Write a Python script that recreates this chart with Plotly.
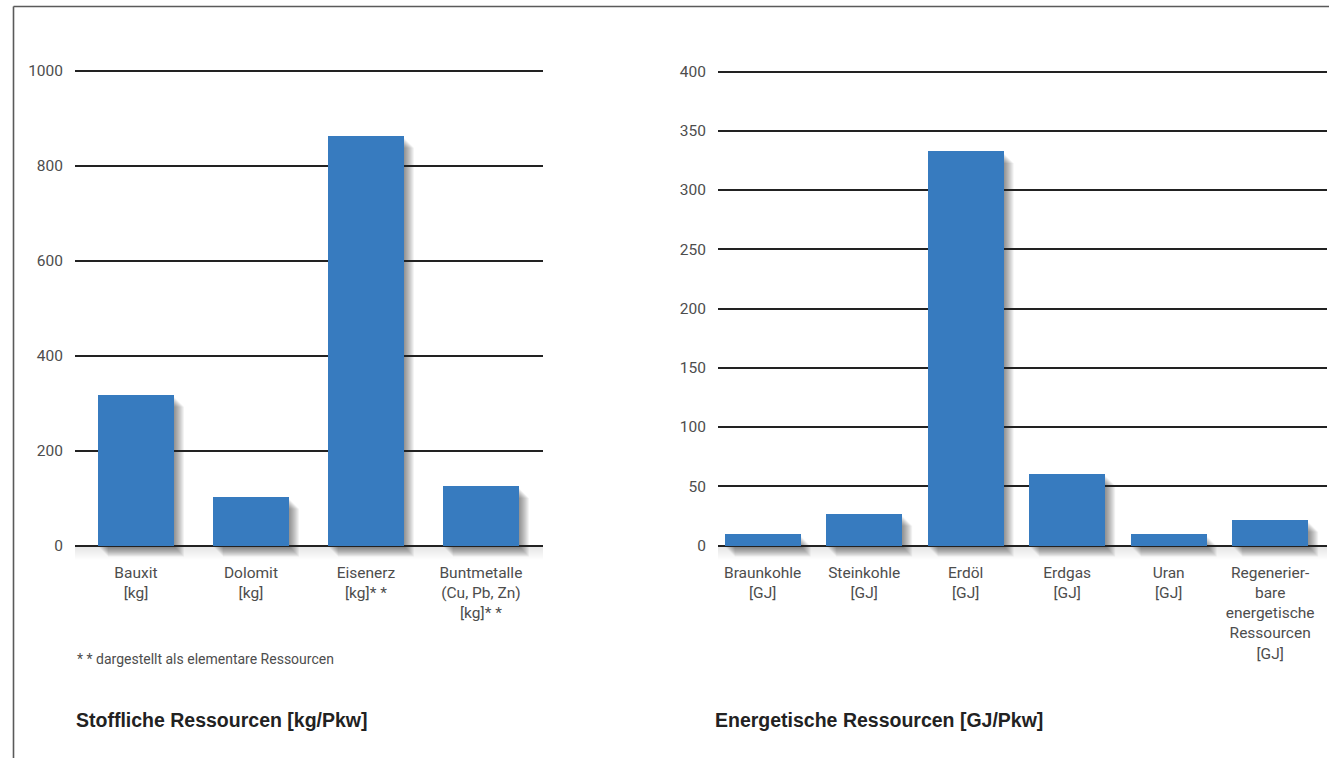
import plotly.graph_objects as go

# ---- data -------------------------------------------------------------
stoff_labels = [
    "Bauxit<br>[kg]",
    "Dolomit<br>[kg]",
    "Eisenerz<br>[kg]* *",
    "Buntmetalle<br>(Cu, Pb, Zn)<br>[kg]* *",
]
stoff_values = [318, 103, 863, 126]
stoff_ticks = [0, 200, 400, 600, 800, 1000]

energie_labels = [
    "Braunkohle<br>[GJ]",
    "Steinkohle<br>[GJ]",
    "Erdöl<br>[GJ]",
    "Erdgas<br>[GJ]",
    "Uran<br>[GJ]",
    "Regenerier-<br>bare<br>energetische<br>Ressourcen<br>[GJ]",
]
energie_values = [10, 27, 333, 61, 10, 22]
energie_ticks = [0, 50, 100, 150, 200, 250, 300, 350, 400]

footnote = "* * dargestellt als elementare Ressourcen"
title_left = "Stoffliche Ressourcen [kg/Pkw]"
title_right = "Energetische Ressourcen [GJ/Pkw]"

# ---- page geometry (pixels) -------------------------------------------
W, H = 1329, 758
TOP_OFF, EFF_H = 5.5, 752.0   # usable drawing band of the page

BAR_COLOR = "#377bbf"
GRID_COLOR = "#222222"
TEXT_COLOR = "#4d4d4d"
LABEL_FONT = "Roboto, DejaVu Sans Condensed, Liberation Sans, sans-serif"
BOLD = "Liberation Sans, Arial, sans-serif"

PAD_BOTTOM = 15   # room under the baseline for the drop shadow
PAD_TOP = 3


def py(p):
    """Pixel row (from top) -> paper y."""
    return 1 - (p - TOP_OFF) / EFF_H


def px(p):
    return p / W


def panel(x_left, x_right, y_zero, y_top, top_value):
    """Axis range/domain so the zero line and the top tick land on the given pixel rows."""
    upp = top_value / (y_zero - y_top)
    y_range = [-PAD_BOTTOM * upp, top_value + PAD_TOP * upp]
    y_domain = [py(y_zero + PAD_BOTTOM), py(y_top - PAD_TOP)]
    x_domain = [px(x_left), px(x_right)]
    return upp, y_range, y_domain, x_domain


L_upp, L_yrange, L_ydom, L_xdom = panel(75, 543, 545, 70, stoff_ticks[-1])
L_xrange = [-0.53, len(stoff_values) - 0.46]
R_upp, R_yrange, R_ydom, R_xdom = panel(718, 1327, 545, 71, energie_ticks[-1])
R_xrange = [-0.44, len(energie_values) - 0.44]

BAR_HALF_PX = 38


def bar_shadows(xref, yref, values, upp):
    """Soft drop shadow to the lower right of each bar, built from stacked translucent rects."""
    shapes = []
    for i, v in enumerate(values):
        for d in range(1, 11):
            shapes.append(dict(
                type="rect", layer="below", xref=xref, yref=yref,
                xsizemode="pixel", xanchor=i,
                x0=-BAR_HALF_PX + d, x1=BAR_HALF_PX + d,
                y0=-(d + 1) * upp, y1=v - (d + 2) * upp,
                fillcolor="black", opacity=0.05, line_width=0,
            ))
    return shapes


def baseline_shadow(xref, yref, upp):
    """Faint grey band fading out below the zero line."""
    shapes = []
    for k in range(1, 15):
        shapes.append(dict(
            type="rect", layer="below", xref=xref + " domain", yref=yref,
            x0=0, x1=1, y0=-k * upp, y1=0,
            fillcolor="black", opacity=0.008, line_width=0,
        ))
    return shapes


fig = go.Figure()

fig.add_trace(go.Bar(
    x=list(range(len(stoff_values))), y=stoff_values, width=0.66,
    marker=dict(color=BAR_COLOR, line_width=0),
    xaxis="x", yaxis="y", hoverinfo="skip", showlegend=False,
))
fig.add_trace(go.Bar(
    x=list(range(len(energie_values))), y=energie_values, width=0.75,
    marker=dict(color=BAR_COLOR, line_width=0),
    xaxis="x2", yaxis="y2", hoverinfo="skip", showlegend=False,
))

yaxis_common = dict(
    showgrid=True, gridcolor=GRID_COLOR, gridwidth=1.7, zeroline=False,
    showline=False, ticks="", ticklabelstandoff=11,
    tickfont=dict(family=LABEL_FONT, size=15.5, color=TEXT_COLOR),
    fixedrange=True,
)
xaxis_common = dict(
    showgrid=False, zeroline=False, showline=False, ticks="",
    ticklabelstandoff=1,
    tickfont=dict(family=LABEL_FONT, size=15.5, color=TEXT_COLOR),
    fixedrange=True,
)

fig.update_layout(
    width=W, height=H,
    margin=dict(l=0, r=0, t=0, b=0),
    paper_bgcolor="white", plot_bgcolor="white",
    bargap=0,
    xaxis=dict(domain=L_xdom, range=L_xrange, anchor="y",
               tickvals=list(range(len(stoff_labels))), ticktext=stoff_labels,
               **xaxis_common),
    yaxis=dict(domain=L_ydom, range=L_yrange, anchor="x",
               tickvals=stoff_ticks, ticktext=[str(t) for t in stoff_ticks],
               **yaxis_common),
    xaxis2=dict(domain=R_xdom, range=R_xrange, anchor="y2",
                tickvals=list(range(len(energie_labels))), ticktext=energie_labels,
                **xaxis_common),
    yaxis2=dict(domain=R_ydom, range=R_yrange, anchor="x2",
                tickvals=energie_ticks, ticktext=[str(t) for t in energie_ticks],
                **yaxis_common),
)

shapes = []
shapes += baseline_shadow("x", "y", L_upp)
shapes += baseline_shadow("x2", "y2", R_upp)
shapes += bar_shadows("x", "y", stoff_values, L_upp)
shapes += bar_shadows("x2", "y2", energie_values, R_upp)

# page frame: top and left rule
shapes.append(dict(type="line", xref="paper", yref="paper",
                   x0=px(13.5), x1=1, y0=py(6), y1=py(6),
                   line=dict(color="#5a5a5a", width=1.6)))
shapes.append(dict(type="line", xref="paper", yref="paper",
                   x0=px(13.5), x1=px(13.5), y0=0, y1=py(6),
                   line=dict(color="#5a5a5a", width=1.6)))
fig.update_layout(shapes=shapes)

fig.add_annotation(text=footnote, xref="paper", yref="paper",
                   x=px(75), y=py(658), xanchor="left", yanchor="middle",
                   showarrow=False,
                   font=dict(family=LABEL_FONT, size=14, color=TEXT_COLOR))
fig.add_annotation(text="<b>" + title_left + "</b>", xref="paper", yref="paper",
                   x=px(74), y=py(719), xanchor="left", yanchor="middle",
                   showarrow=False,
                   font=dict(family=BOLD, size=19.5, color="#222222"))
fig.add_annotation(text="<b>" + title_right + "</b>", xref="paper", yref="paper",
                   x=px(713), y=py(719), xanchor="left", yanchor="middle",
                   showarrow=False,
                   font=dict(family=BOLD, size=19.5, color="#222222"))

fig.write_html("out.html", config=dict(displayModeBar=False))
